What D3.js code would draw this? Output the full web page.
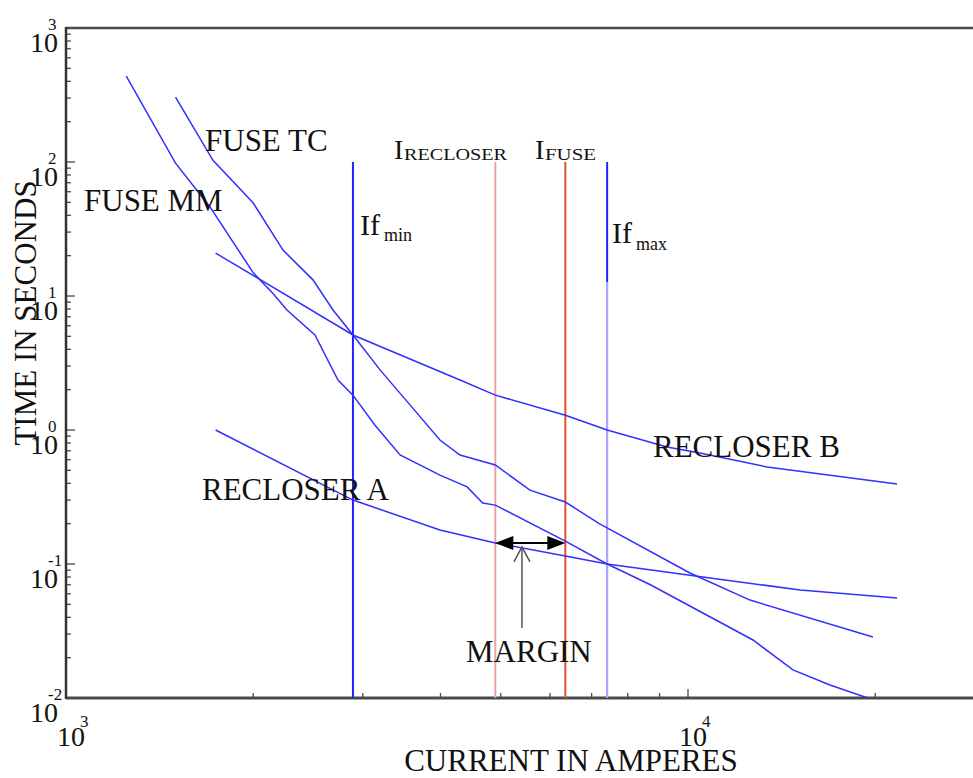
<!DOCTYPE html>
<html>
<head>
<meta charset="utf-8">
<script src="https://cdn.jsdelivr.net/npm/d3@7"></script>
<style>
  body { margin: 0; background: #fff; }
  text { font-family: "Liberation Serif", "DejaVu Serif", serif; fill: #111; }
</style>
</head>
<body>
<script>
// ---------- data ----------
const xDecades = [1000, 10000];
const yDecades = [0.01, 0.1, 1, 10, 100, 1000];
const xTickExp = ["3", "4"];
const yTickExp = ["-2", "-1", "0", "1", "2", "3"];

const fuseMM_I = [1250, 1500, 1705, 2000, 2150, 2266, 2513, 2737, 2893, 3137, 3444, 3992, 4415, 4677, 4900, 6350, 7413, 8700, 12720, 14750, 16910, 19460];
const fuseMM_t = [438, 98, 46, 14.9, 10.5, 7.86, 5.12, 2.36, 1.82, 1.09, 0.651, 0.461, 0.376, 0.285, 0.275, 0.148, 0.1, 0.07, 0.0271, 0.0162, 0.0125, 0.01];

const fuseTC_I = [1500, 1723, 2000, 2233, 2495, 2687, 2893, 3198, 3573, 3992, 4300, 4900, 5570, 6350, 7200, 10070, 12580, 19830];
const fuseTC_t = [305, 103, 49.4, 22, 13.2, 7.86, 5.12, 2.81, 1.54, 0.842, 0.651, 0.548, 0.356, 0.29, 0.2, 0.0857, 0.0538, 0.0285];

const recA_I = [1740, 2893, 3992, 4900, 6350, 7413, 10850, 15150, 21680];
const recA_t = [1.0, 0.30, 0.1795, 0.1435, 0.1148, 0.1, 0.0787, 0.064, 0.0557];

const recB_I = [1740, 2893, 4300, 4900, 6350, 7413, 9250, 10450, 13400, 21680];
const recB_t = [20.9, 5.12, 2.36, 1.82, 1.29, 1.0, 0.747, 0.673, 0.530, 0.395];

const vLineNames = ["Ifmin", "IRECLOSER", "IFUSE", "Ifmax"];
const vLineI = [2893, 4900, 6350, 7413];
const vLineTop = 100;
const vLineBottom = 0.01;
const ifmaxSplit = 12.7;

const marginFrom = 4900, marginTo = 6350, marginT = 0.1435;
const pointerI = 5408, pointerTop = 0.134, pointerBottom = 0.0333;

// ---------- layout ----------
const W = 973, H = 778;
const svg = d3.select("body").append("svg").attr("width", W).attr("height", H);
svg.append("rect").attr("width", W).attr("height", H).attr("fill", "#fff");

const x = d3.scaleLog().domain([1000, 30000]).range([66, 66 + Math.log10(30) * 622]);
const y = d3.scaleLog().domain([0.01, 1000]).range([698, 28]);

svg.append("clipPath").attr("id", "plot").append("rect")
  .attr("x", x(1000)).attr("y", y(1000)).attr("width", x(30000) - x(1000)).attr("height", y(0.01) - y(1000));

const axisCol = "#4a4a4a";

// minor/major ticks, left axis
const yTickVals = [];
for (let k = -2; k <= 2; k++) for (let m = 1; m <= 9; m++) yTickVals.push(m * Math.pow(10, k));
yTickVals.push(1000);
svg.append("g").selectAll("line").data(yTickVals).join("line")
  .attr("x1", x(1000)).attr("x2", d => x(1000) + (Math.abs(Math.log10(d) - Math.round(Math.log10(d))) < 1e-9 ? 9 : 5))
  .attr("y1", d => y(d)).attr("y2", d => y(d))
  .attr("stroke", axisCol).attr("stroke-width", 1.3);

// bottom ticks
const xTickVals = [];
for (let k = 3; k <= 4; k++) for (let m = 1; m <= 9; m++) { const v = m * Math.pow(10, k); if (v <= 20000 && v > 1000) xTickVals.push(v); }
svg.append("g").selectAll("line").data(xTickVals).join("line")
  .attr("x1", d => x(d)).attr("x2", d => x(d))
  .attr("y1", y(0.01)).attr("y2", d => y(0.01) - (d === 10000 ? 9 : 5))
  .attr("stroke", axisCol).attr("stroke-width", 1.3);

// frame
svg.append("line").attr("x1", x(1000)).attr("x2", W + 5).attr("y1", y(1000)).attr("y2", y(1000)).attr("stroke", axisCol).attr("stroke-width", 2.5);
svg.append("line").attr("x1", x(1000)).attr("x2", W + 5).attr("y1", y(0.01)).attr("y2", y(0.01)).attr("stroke", axisCol).attr("stroke-width", 3);
svg.append("line").attr("x1", x(1000)).attr("x2", x(1000)).attr("y1", y(1000) - 1).attr("y2", y(0.01) + 1).attr("stroke", "#333").attr("stroke-width", 2.5);

// tick labels Y
const yl = svg.append("g");
yDecades.forEach((d, i) => {
  yl.append("text").attr("x", 30).attr("y", y(d) + 24).attr("font-size", 28).text("10");
  yl.append("text").attr("x", 48).attr("y", y(d) + 2).attr("font-size", 17).text(yTickExp[i]);
});
// tick labels X
xDecades.forEach((d, i) => {
  svg.append("text").attr("x", x(d) + 5).attr("y", 746).attr("text-anchor", "middle").attr("font-size", 28).text("10");
  svg.append("text").attr("x", x(d) + 14).attr("y", 727).attr("font-size", 17).text(xTickExp[i]);
});

// axis titles
svg.append("text").attr("x", 571).attr("y", 771).attr("text-anchor", "middle").attr("font-size", 31).text("CURRENT IN AMPERES");
svg.append("text").attr("transform", "translate(36,313) rotate(-90)").attr("text-anchor", "middle").attr("font-size", 31).text("TIME IN SECONDS");

// vertical lines
const g = svg.append("g").attr("clip-path", "url(#plot)");
const vColors = ["#2222ff", "#eba3a3", "#e0512f", "#2222ff"];
vLineI.forEach((v, i) => {
  if (vLineNames[i] === "Ifmax") {
    g.append("line").attr("x1", x(v)).attr("x2", x(v)).attr("y1", y(vLineTop)).attr("y2", y(ifmaxSplit)).attr("stroke", "#2222ff").attr("stroke-width", 2);
    g.append("line").attr("x1", x(v)).attr("x2", x(v)).attr("y1", y(ifmaxSplit)).attr("y2", y(vLineBottom)).attr("stroke", "#a6a6ff").attr("stroke-width", 2.2);
  } else {
    g.append("line").attr("x1", x(v)).attr("x2", x(v)).attr("y1", y(vLineTop)).attr("y2", y(vLineBottom)).attr("stroke", vColors[i]).attr("stroke-width", 2);
  }
});

// curves
const line = d3.line().x(d => x(d[0])).y(d => y(d[1]));
const series = [[fuseMM_I, fuseMM_t], [fuseTC_I, fuseTC_t], [recA_I, recA_t], [recB_I, recB_t]];
series.forEach(([I, t]) => {
  g.append("path").datum(I.map((v, i) => [v, t[i]])).attr("d", line)
    .attr("fill", "none").attr("stroke", "#3030ff").attr("stroke-width", 1.5);
});

// margin arrow
const my = y(marginT), mx1 = x(marginFrom), mx2 = x(marginTo);
svg.append("line").attr("x1", mx1 + 10).attr("x2", mx2 - 10).attr("y1", my).attr("y2", my).attr("stroke", "#000").attr("stroke-width", 2);
svg.append("path").attr("d", `M${mx1},${my} L${mx1 + 18},${my - 7} L${mx1 + 18},${my + 7} Z`).attr("fill", "#000");
svg.append("path").attr("d", `M${mx2},${my} L${mx2 - 18},${my - 7} L${mx2 - 18},${my + 7} Z`).attr("fill", "#000");
const px = x(pointerI), pt = y(pointerTop), pb = y(pointerBottom);
svg.append("line").attr("x1", px).attr("x2", px).attr("y1", pt).attr("y2", pb).attr("stroke", "#555").attr("stroke-width", 1.5);
svg.append("path").attr("d", `M${px - 8},${pt + 15} L${px},${pt} L${px + 8},${pt + 15}`).attr("fill", "none").attr("stroke", "#555").attr("stroke-width", 1.5);

// labels
const lab = (t, xx, yy, fs) => svg.append("text").attr("x", xx).attr("y", yy).attr("font-size", fs || 31).text(t);
lab("FUSE TC", 205, 151);
lab("FUSE MM", 84, 211);
lab("RECLOSER A", 202, 500);
lab("RECLOSER B", 653, 457);
lab("MARGIN", 466, 662);

// If_min / If_max
lab("If", 360, 235, 30);
lab("min", 384, 241, 18);
lab("If", 612, 243, 30);
lab("max", 636, 250, 18);
// I_RECLOSER / I_FUSE
lab("I", 394, 159, 28);
svg.append("text").attr("x", 404).attr("y", 160).attr("font-size", 17).attr("textLength", 103).attr("lengthAdjust", "spacingAndGlyphs").text("RECLOSER");
lab("I", 535, 159, 28);
svg.append("text").attr("x", 545).attr("y", 160).attr("font-size", 17).attr("textLength", 51).attr("lengthAdjust", "spacingAndGlyphs").text("FUSE");
</script>
</body>
</html>
